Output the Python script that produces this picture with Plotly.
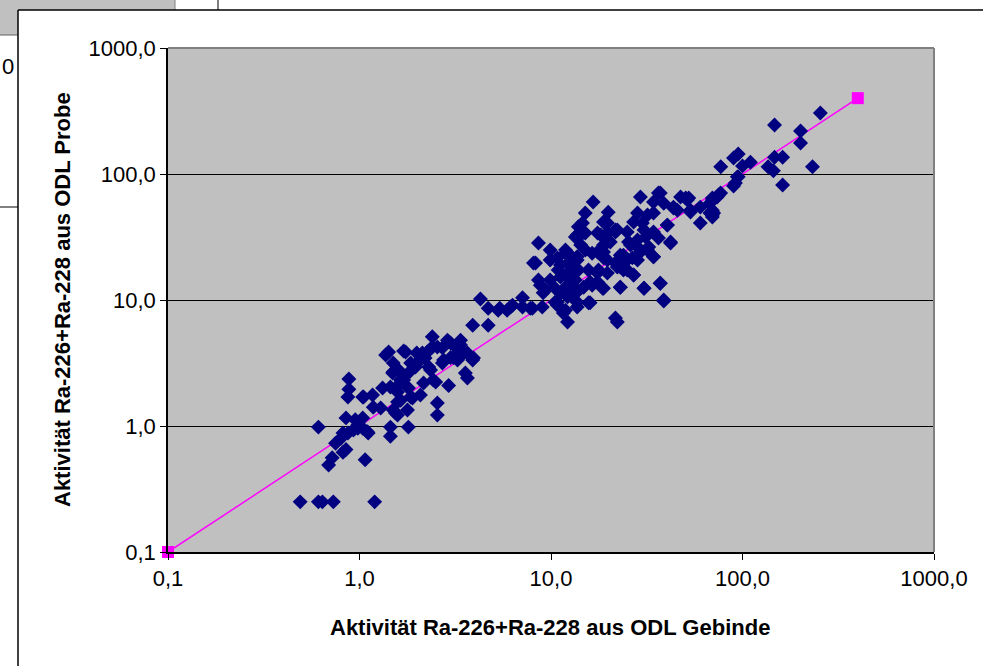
import plotly.graph_objects as go

# Data (Aktivität Ra-226+Ra-228)
gebinde = [
    0.49, 0.61, 0.64, 0.73, 1.2,
    0.61, 0.69, 0.72, 1.07, 0.75, 0.82, 0.85, 0.80, 0.82, 0.85, 0.87, 1.04, 1.11, 0.93, 0.98, 1.04, 0.95, 1.1,
    0.88, 0.88, 0.87, 1.04, 1.17, 1.18, 1.29, 1.32, 1.45, 1.45, 1.8,
    1.42, 1.70, 1.5, 1.49, 1.64, 1.58, 1.58, 1.58, 1.78, 1.85, 2.08, 1.8, 1.85, 1.99, 2.13, 2.26, 2.4, 2.55,
    2.35, 2.5, 2.55, 2.55, 2.92, 2.88, 2.99, 3.17, 3.37, 3.5, 3.57, 3.66, 3.9, 3.25, 2.71, 2.2, 1.99, 1.70,
    1.8, 1.96, 1.6, 1.37, 1.45, 1.05, 1.5, 1.89, 2.3, 2.4, 2.71, 2.75, 3.1, 2.08, 2.43, 2.16, 2.99, 3.37,
    3.66, 3.94, 1.54, 1.64, 1.64, 1.5, 1.74, 0.98,
    3.9, 4.7, 4.28, 4.7, 5.3, 5.4, 5.9, 6.15, 6.3, 7.1, 7.1, 7.8, 8.0, 9.0,
    8.6, 8.3, 9.9, 8.6, 9.35, 10.8, 11.9, 12.3, 11.2, 11.9, 10.8, 11.6, 12.2, 13.7, 13.4, 13.7, 14.6, 15.1,
    16.6, 15.1, 15.7, 16.0, 17.5, 18.8, 19.9, 19.7, 19.7, 22.2, 21.7, 23.0, 22.2, 23.9, 25.4, 27.0, 28.3,
    29.3, 30.0, 30.6, 31.2, 31.9, 34.3, 34.3, 36.4, 37.2, 38.8, 38.8, 40.5, 42.1, 47.5, 43.6, 52.4, 53.5,
    60.2, 60.2, 69.6, 70.7, 76.9,
    15.1, 14.3, 18.2, 20.4, 25.0, 28.3, 26.6, 18.8, 17.7, 19.7, 22.2, 23.9, 17.5, 13.4, 12.2, 13.7, 14.8,
    16.0, 13.7, 12.6, 13.7, 9.9, 10.5, 11.2, 10.8,
    8.8, 9.1, 9.9, 10.9, 11.9, 12.6, 13.4, 13.9, 13.7, 13.9, 13.4, 12.2, 11.9, 10.5, 15.7, 16.4, 18.6, 17.5,
    18.8, 19.7, 19.2, 21.7, 22.2, 25.0, 16.4, 12.6, 11.2, 17.5, 8.1, 14.3,
    18.8, 21.7, 27.0, 30.6, 34.3, 36.4, 42.1, 28.3, 26.0, 32.4, 34.3, 29.3, 28.3, 23.0, 18.8, 19.7, 23.0,
    25.0, 27.0, 23.0, 30.6, 37.2, 38.8, 21.7, 31.9, 40.5, 37.2, 34.3, 51.5, 43.6, 45.7, 53.5, 67.6, 73.7,
    67.6, 69.6,
    255, 147, 201, 201, 232, 147, 162, 136, 145, 162, 95, 89.8, 110, 100, 77, 95, 89.8, 91.8, 75, 69.6,
    50.5, 69.6, 69.6, 94,
]
probe = [
    0.25, 0.25, 0.25, 0.25, 0.25,
    0.98, 0.49, 0.56, 0.54, 0.73, 0.62, 0.65, 0.80, 0.88, 1.16, 0.88, 1.16, 0.88, 0.93, 1.02, 0.96, 1.12, 0.9,
    2.36, 1.96, 1.7, 1.7, 1.76, 1.41, 1.39, 2.0, 0.98, 0.83, 0.98,
    3.86, 3.94, 3.16, 2.63, 2.32, 1.86, 1.55, 1.22, 1.34, 1.7, 1.76, 2.63, 3.16, 3.16, 3.8, 3.86, 5.1, 4.24,
    2.78, 2.23, 1.52, 1.22, 2.1, 4.8, 3.5, 4.24, 4.8, 3.8, 2.63, 2.4, 3.34, 3.34, 3.16, 3.46, 3.8, 2.32,
    2.0, 2.94, 2.78, 3.66, 2.04, 1.7, 1.34, 1.67, 2.94, 4.24, 4.17, 3.34, 3.5, 3.34, 2.32, 2.19, 4.55, 4.4,
    3.8, 3.46, 1.27, 1.6, 2.2, 2.7, 3.86, 0.96,
    6.3, 6.3, 10.2, 8.6, 8.3, 8.6, 8.3, 8.8, 9.1, 10.4, 8.8, 8.6, 8.6, 8.8,
    28.3, 19.7, 24.9, 14.4, 12.0, 21.6, 24.9, 19.7, 15.2, 12.6, 9.1, 7.9, 6.7, 8.8, 14.4, 32.8, 40.8, 49.0,
    59.9, 24.9, 17.3, 9.5, 24.0, 12.4, 49.8, 40.8, 34.0, 36.0, 19.7, 12.6, 6.7, 22.7, 28.9, 15.8, 49.0,
    65.7, 40.8, 12.4, 31.6, 24.9, 49.0, 22.0, 70.8, 13.6, 9.8, 58.5, 39.3, 28.9, 65.7, 54.6, 64.4, 51.6,
    54.6, 40.8, 62.3, 49.0, 70.8,
    34.0, 32.8, 32.8, 28.9, 34.6, 26.3, 21.6, 21.6, 17.3, 16.4, 18.3, 17.3, 13.9, 17.3, 16.4, 11.6, 12.6,
    13.9, 22.0, 10.9, 9.6, 14.4, 12.4, 11.4, 9.6,
    13.1, 11.4, 20.8, 17.3, 23.5, 14.4, 31.6, 38.1, 20.8, 17.3, 12.4, 10.6, 8.3, 9.6, 9.5, 13.1, 12.4, 16.4,
    24.0, 28.9, 40.8, 34.6, 19.7, 20.8, 23.5, 22.7, 19.0, 34.0, 19.7, 27.3,
    41.6, 36.0, 41.6, 36.0, 34.6, 31.1, 28.3, 30.0, 27.3, 26.3, 22.0, 24.0, 20.8, 22.7, 27.3, 20.8, 18.3,
    17.3, 15.8, 12.6, 12.4, 13.6, 10.0, 7.2, 47.2, 39.3, 70.8, 59.9, 62.3, 53.8, 51.6, 50.0, 58.5, 65.7,
    49.0, 45.5,
    305, 245, 219, 176, 114, 136, 136, 114, 106, 81.7, 144, 134, 124, 116, 114, 94.9, 80.4, 84.8, 68, 64.4,
    64.4, 51.6, 47.2, 94.9,
]

line_x = [0.1, 400]
line_y = [0.1, 400]

tick_vals = [0.1, 1, 10, 100, 1000]
tick_text = ["0,1", "1,0", "10,0", "100,0", "1000,0"]

x_title = "Aktivität Ra-226+Ra-228 aus ODL Gebinde"
y_title = "Aktivität Ra-226+Ra-228 aus ODL Probe"

FONT = "Liberation Sans, Arial, sans-serif"
W, H = 983, 666
L, R, T, B = 168, 49, 48, 114
PW, PH = W - L - R, H - T - B


def px(xp):
    return (xp - L) / PW


def py(yp):
    return (H - B - yp) / PH


fig = go.Figure()
fig.add_trace(go.Scatter(
    x=line_x, y=line_y, mode="lines+markers",
    line=dict(color="#FF00FF", width=1.5),
    marker=dict(symbol="square", size=12, color="#FF00FF"),
    cliponaxis=False,
    showlegend=False, hoverinfo="skip",
))
fig.add_trace(go.Scatter(
    x=gebinde, y=probe, mode="markers",
    marker=dict(symbol="diamond", size=11.5, color="#000080", line=dict(width=0)),
    showlegend=False,
))

axis_common = dict(
    type="log", range=[-1, 3], tickvals=tick_vals, ticktext=tick_text,
    showline=True, linecolor="#000000", linewidth=1.5,
    ticks="outside", ticklen=6, tickcolor="#000000", tickwidth=1,
    tickfont=dict(family=FONT, size=22, color="#000000"),
    zeroline=False, fixedrange=True,
)
fig.update_xaxes(**axis_common, showgrid=False)
fig.update_yaxes(**axis_common, showgrid=True, gridcolor="#000000", gridwidth=1)

shapes = [
    # frame of plot area: gray top and right edges
    dict(type="line", xref="paper", yref="paper", x0=0, x1=1, y0=1, y1=1,
         line=dict(color="#808080", width=2)),
    dict(type="line", xref="paper", yref="paper", x0=1, x1=1, y0=0, y1=1,
         line=dict(color="#808080", width=2)),
    # spreadsheet remnants around the chart
    dict(type="rect", xref="paper", yref="paper", x0=px(0), x1=px(175), y0=py(10), y1=py(0),
         fillcolor="#C0C0C0", line=dict(width=0), layer="below"),
    dict(type="rect", xref="paper", yref="paper", x0=px(0), x1=px(18), y0=py(35), y1=py(10),
         fillcolor="#C0C0C0", line=dict(width=0), layer="below"),
    dict(type="line", xref="paper", yref="paper", x0=px(175), x1=px(175), y0=py(10), y1=py(0),
         line=dict(color="#808080", width=1)),
    dict(type="line", xref="paper", yref="paper", x0=px(0), x1=px(18), y0=py(35), y1=py(35),
         line=dict(color="#606060", width=1)),
    dict(type="line", xref="paper", yref="paper", x0=px(0), x1=px(18), y0=py(207), y1=py(207),
         line=dict(color="#000000", width=1)),
    dict(type="line", xref="paper", yref="paper", x0=px(218), x1=px(218), y0=py(10), y1=py(0),
         line=dict(color="#000000", width=1)),
    dict(type="line", xref="paper", yref="paper", x0=px(18), x1=px(983), y0=py(10), y1=py(10),
         line=dict(color="#000000", width=1.5)),
    dict(type="line", xref="paper", yref="paper", x0=px(18), x1=px(18), y0=py(666), y1=py(10),
         line=dict(color="#000000", width=1.5)),
]

annotations = [
    dict(text="<b>" + x_title + "</b>", xref="paper", yref="paper", x=px(550), y=py(627),
         showarrow=False, font=dict(family=FONT, size=22, color="#000000"),
         xanchor="center", yanchor="middle"),
    dict(text="<b>" + y_title + "</b>", xref="paper", yref="paper", x=px(62), y=py(300),
         showarrow=False, textangle=-90, font=dict(family=FONT, size=22, color="#000000"),
         xanchor="center", yanchor="middle"),
    dict(text="0", xref="paper", yref="paper", x=px(0), y=py(67), showarrow=False,
         font=dict(family=FONT, size=22, color="#000000"), xanchor="left", yanchor="middle"),
]

fig.update_layout(
    width=W, height=H, autosize=False,
    margin=dict(l=L, r=R, t=T, b=B),
    paper_bgcolor="#FFFFFF", plot_bgcolor="#C0C0C0",
    shapes=shapes, annotations=annotations,
    font=dict(family=FONT),
    showlegend=False,
)

fig.write_html(
    "out.html",
    config={"displayModeBar": False},
    post_script="document.body.style.margin='0';document.body.style.overflow='hidden';",
)
